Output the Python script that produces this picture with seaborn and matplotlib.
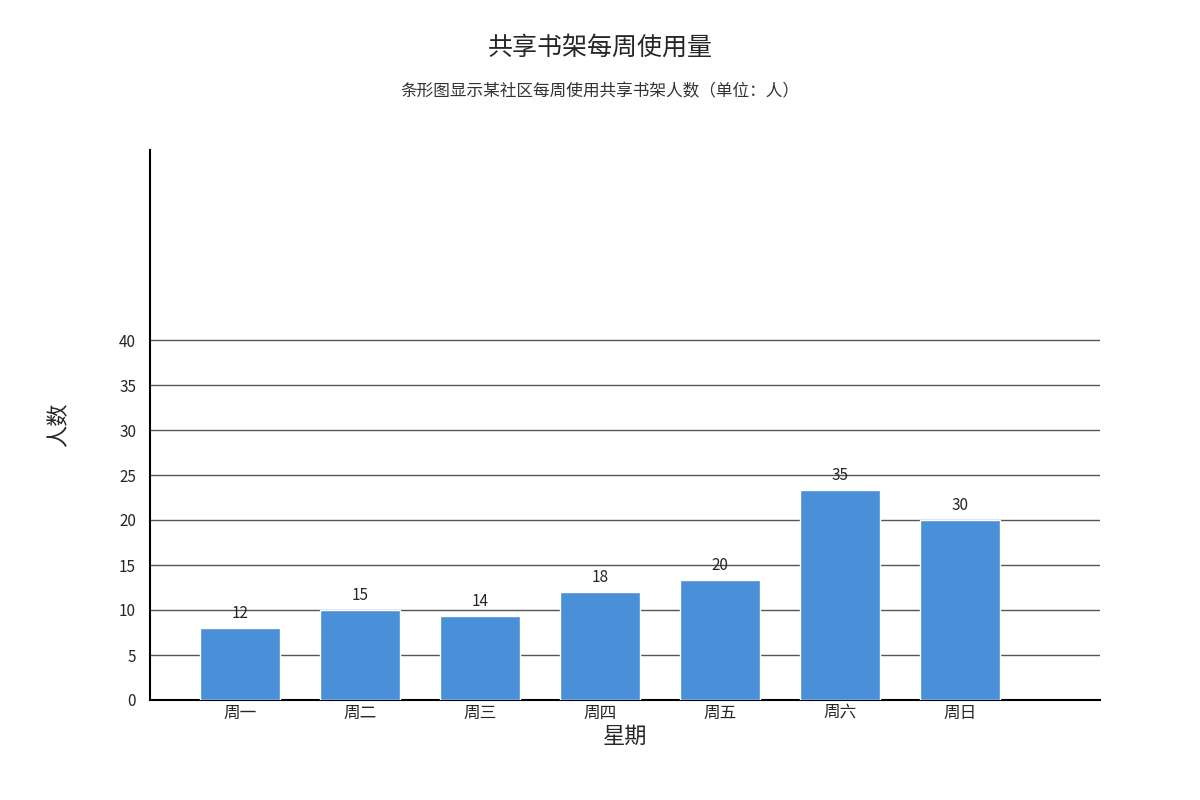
import matplotlib
matplotlib.use('Agg')
import matplotlib.pyplot as plt
import seaborn as sns
import pandas as pd

days = ['周一', '周二', '周三', '周四', '周五', '周六', '周日']
users = [12, 15, 14, 18, 20, 35, 30]
tick_values = [0, 5, 10, 15, 20, 25, 30, 35, 40]

sns.set_style('white')
plt.rcParams['font.family'] = ['Noto Sans CJK SC', 'DejaVu Sans']

fig = plt.figure(figsize=(12, 8), dpi=100)
ax = fig.add_axes([0.125, 0.125, 0.7917, 0.6875])

# tick/grid axis (its scale differs from the bar scale in the reference)
ax.set_ylim(0, 550 / 9)
ax.set_yticks(tick_values)
ax.set_yticklabels([str(v) for v in tick_values], fontsize=11)
for v in tick_values[1:]:
    ax.axhline(v, color='#555555', lw=1, zorder=0)
ax.tick_params(axis='y', length=0, pad=10)
ax.tick_params(axis='x', length=0, labelsize=12)
for s in ['top', 'right']:
    ax.spines[s].set_visible(False)
for s in ['left', 'bottom']:
    ax.spines[s].set_color('black')
    ax.spines[s].set_linewidth(1.5)

# bar axis
ax2 = ax.twinx()
df = pd.DataFrame({'day': days, 'users': users})
sns.barplot(data=df, x='day', y='users', color='#4a90d9', saturation=1,
            width=0.667, ax=ax2)
ax2.set_ylim(0, 550 / 6)
ax2.set_xlim(-0.75, 7.167)
ax2.set_yticks([])
ax2.set_ylabel('')
ax2.set_xlabel('')
ax2.patch.set_visible(False)
for s in ax2.spines.values():
    s.set_visible(False)
for i, v in enumerate(users):
    ax2.text(i, v + 1.0, str(v), ha='center', va='bottom', fontsize=11)

ax.set_xticks(range(len(days)))
ax.set_xticklabels(days)
ax.set_xlim(-0.75, 7.167)
ax.set_xlabel('星期', fontsize=16, labelpad=2)
ax.set_ylabel('人数', fontsize=16, labelpad=35)

fig.text(0.5, 0.94, '共享书架每周使用量', ha='center', va='center', fontsize=18)
fig.text(0.5, 0.885, '条形图显示某社区每周使用共享书架人数（单位：人）',
         ha='center', va='center', fontsize=12, color='#333333')

fig.savefig('out.png', dpi=100)
